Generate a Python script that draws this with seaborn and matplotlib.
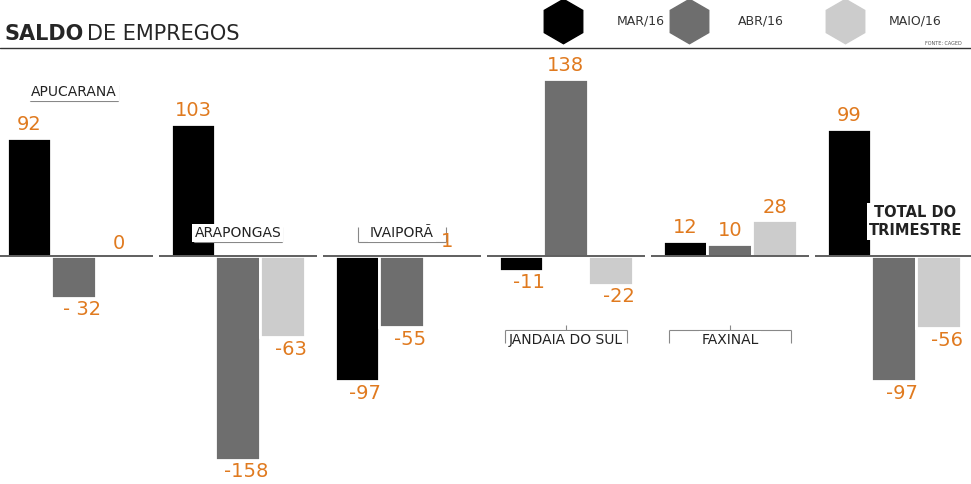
import pandas as pd
import matplotlib.pyplot as plt
import seaborn as sns
from matplotlib.lines import Line2D

# data
cities = ["APUCARANA", "ARAPONGAS", "IVAIPORÃ", "JANDAIA DO SUL", "FAXINAL", "TOTAL DO\nTRIMESTRE"]
months = ["MAR/16", "ABR/16", "MAIO/16"]
mar = [92, 103, -97, -11, 12, 99]
abr = [-32, -158, -55, 138, 10, -97]
mai = [0, -63, 1, -22, 28, -56]
value_labels = [["92", "- 32", "0"], ["103", "-158", "-63"], ["-97", "-55", "1"],
                ["-11", "138", "-22"], ["12", "10", "28"], ["99", "-97", "-56"]]

df = pd.DataFrame({
    "cidade": cities * 3,
    "mes": [m for m in months for _ in cities],
    "saldo": mar + abr + mai,
})

colors = ["#000000", "#6e6e6e", "#cccccc"]
orange = "#e07a1f"

sns.set_theme(style="white")
plt.rcParams["font.family"] = ["DejaVu Sans"]

fig = plt.figure(figsize=(9.71, 4.84), dpi=100)
ax = fig.add_axes([0.0, 0.0, 1.0, 0.89])
sns.barplot(data=df, x="cidade", y="saldo", hue="mes", palette=colors, order=cities,
            hue_order=months, width=0.82, edgecolor="white", linewidth=2, legend=False, ax=ax)
ax.set_xlim(-0.45, 5.47)
ax.set_ylim(-177, 158)
ax.axis("off")

# per group baselines and value labels
for i in range(len(cities)):
    ax.hlines(0, i - 0.48, i + 0.48, color="#444444", lw=1.2)
for j, cont in enumerate(ax.containers):
    for i, bar in enumerate(cont):
        v = bar.get_height()
        x = bar.get_x() + bar.get_width() / 2
        if v >= 0:
            ax.text(x, v + 3, value_labels[i][j], ha="center", va="bottom", color=orange, fontsize=14)
        else:
            ax.text(x + 0.05, v - 2, value_labels[i][j], ha="center", va="top", color=orange, fontsize=14)

# group labels
label_pos = [(0, 128), (1, 18), (2, 18), (3, -65), (4, -65), (5.13, 27)]
for i, (x, y) in enumerate(label_pos):
    name = cities[i]
    bold = "TOTAL" in name
    ax.text(x, y, name, ha="center", va="center", fontsize=10.5 if bold else 10,
            fontweight="bold" if bold else "normal", color="#222222",
            bbox=dict(facecolor="white", edgecolor="none", pad=1.5))
    if bold:
        continue
    if y > 0:
        ax.hlines(y - 7, x - 0.27, x + 0.27, color="#888888", lw=0.8)
        ax.vlines([x - 0.27, x + 0.27], y - 7, y + 5, color="#888888", lw=0.8)
    else:
        ax.hlines(y + 8, x - 0.37, x + 0.37, color="#888888", lw=0.8)
        ax.vlines([x - 0.37, x + 0.37], y + 8, y - 2, color="#888888", lw=0.8)
        ax.vlines(x, y + 8, y + 12, color="#888888", lw=0.8)

# header
fig.text(0.005, 0.93, "SALDO", fontsize=15, fontweight="bold", va="center")
fig.text(0.09, 0.93, "DE EMPREGOS", fontsize=15, va="center")
fig.add_artist(Line2D([0, 1], [0.9, 0.9], color="#333333", lw=1))
for k, (mx, tx) in enumerate([(0.58, 0.635), (0.71, 0.76), (0.87, 0.915)]):
    fig.add_artist(Line2D([mx], [0.957], marker="h", markersize=32, color=colors[k], transform=fig.transFigure))
    fig.text(tx, 0.957, months[k], fontsize=9, color="#333333", va="center")
fig.text(0.99, 0.91, "FONTE: CAGED", fontsize=3.5, ha="right", va="center", color="#555555")

plt.savefig("out.png", dpi=100)
